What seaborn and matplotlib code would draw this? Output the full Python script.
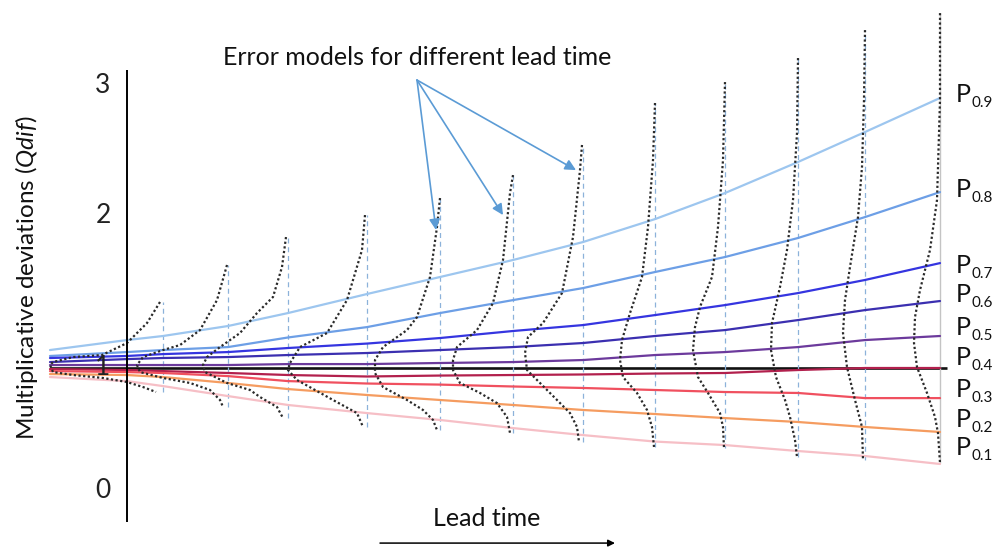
import numpy as np
import pandas as pd
import matplotlib
matplotlib.use("Agg")
import matplotlib.pyplot as plt
import seaborn as sns

# ---------------- data (lead time in arbitrary units, Qdif on the schematic's scale) -------------
lead = [-7.7, 0.0, 3.6, 10.1, 16.1, 24.0, 31.3, 38.6, 45.6, 52.8, 59.8, 67.1, 73.8, 81.3]

p90 = [1.037, 1.111, 1.141, 1.215, 1.311, 1.452, 1.578, 1.704, 1.837, 2.007, 2.200, 2.430, 2.652, 2.904]
p80 = [0.993, 1.022, 1.037, 1.059, 1.130, 1.207, 1.311, 1.407, 1.496, 1.615, 1.726, 1.867, 2.022, 2.207]
p70 = [0.978, 0.993, 1.007, 1.022, 1.052, 1.085, 1.126, 1.178, 1.222, 1.296, 1.370, 1.459, 1.556, 1.681]
p60 = [0.948, 0.970, 0.978, 0.985, 1.000, 1.015, 1.037, 1.059, 1.089, 1.141, 1.185, 1.259, 1.333, 1.400]
p50 = [0.926, 0.926, 0.926, 0.926, 0.933, 0.933, 0.941, 0.948, 0.963, 1.000, 1.022, 1.059, 1.111, 1.141]
p40 = [0.896, 0.889, 0.881, 0.867, 0.852, 0.841, 0.848, 0.852, 0.856, 0.863, 0.867, 0.889, 0.904, 0.904]
p30 = [0.881, 0.874, 0.867, 0.844, 0.807, 0.789, 0.781, 0.767, 0.756, 0.741, 0.726, 0.719, 0.681, 0.681]
p20 = [0.859, 0.852, 0.837, 0.793, 0.748, 0.704, 0.667, 0.630, 0.593, 0.563, 0.533, 0.504, 0.467, 0.430]
p10 = [0.837, 0.807, 0.770, 0.696, 0.630, 0.570, 0.519, 0.459, 0.407, 0.359, 0.333, 0.289, 0.252, 0.193]

quantile_names = ["0.9", "0.8", "0.7", "0.6", "0.5", "0.4", "0.3", "0.2", "0.1"]
ref_level = 0.904          # the Qdif = 1 reference line
ref_end = 82.0

# error-model densities (one per lead time): Qdif values and density height (in lead-time units)
dens_lead = [3.6, 10.1, 16.1, 24.0, 31.3, 38.6, 45.6, 52.8, 59.8, 67.1, 73.8, 81.3]
dens_q = [
    [1.393, 1.237, 1.089, 1.000, 0.985, 0.948, 0.926, 0.874, 0.852, 0.830, 0.800, 0.763, 0.726],
    [1.667, 1.407, 1.185, 1.074, 1.037, 0.985, 0.926, 0.874, 0.830, 0.793, 0.741, 0.667, 0.615],
    [1.874, 1.652, 1.430, 1.311, 1.163, 1.059, 0.985, 0.926, 0.874, 0.793, 0.741, 0.689, 0.615, 0.533],
    [2.037, 1.778, 1.407, 1.163, 1.059, 0.941, 0.889, 0.815, 0.667, 0.570, 0.467],
    [2.163, 1.948, 1.578, 1.281, 1.185, 1.059, 0.963, 0.867, 0.763, 0.667, 0.593, 0.519, 0.444],
    [2.333, 2.200, 1.704, 1.385, 1.185, 1.059, 0.963, 0.889, 0.793, 0.719, 0.644, 0.541, 0.422],
    [2.556, 2.370, 1.874, 1.459, 1.237, 1.133, 1.015, 0.889, 0.793, 0.667, 0.570, 0.467, 0.356],
    [2.867, 2.444, 1.948, 1.578, 1.311, 1.111, 0.963, 0.837, 0.719, 0.593, 0.467, 0.319],
    [3.022, 2.444, 1.948, 1.578, 1.356, 1.207, 1.037, 0.837, 0.719, 0.570, 0.467, 0.311],
    [3.200, 2.644, 2.148, 1.778, 1.504, 1.237, 1.037, 0.837, 0.667, 0.541, 0.370, 0.244],
    [3.407, 2.889, 2.393, 2.022, 1.652, 1.407, 1.163, 0.911, 0.667, 0.467, 0.222],
    [3.533, 2.889, 2.148, 1.778, 1.481, 1.281, 1.089, 0.911, 0.719, 0.541, 0.422, 0.200],
]
dens_w = [
    [0.3, 1.6, 3.6, 6.1, 9.0, 11.0, 11.3, 11.0, 9.0, 6.0, 3.6, 2.0, 0.7],
    [0.1, 1.1, 2.8, 4.8, 6.5, 8.5, 9.1, 8.8, 6.5, 3.8, 1.8, 0.8, 0.5],
    [0.2, 0.6, 1.5, 3.1, 4.8, 6.8, 8.1, 8.5, 8.3, 6.1, 3.8, 2.8, 1.1, 0.5],
    [0.2, 0.5, 2.0, 4.0, 6.7, 7.7, 7.9, 7.0, 3.4, 1.0, 0.4],
    [0.0, 0.3, 1.0, 2.3, 3.3, 5.7, 6.5, 6.5, 5.7, 3.3, 1.7, 0.7, 0.3],
    [0.0, 0.3, 1.0, 2.0, 3.6, 5.6, 6.0, 6.0, 5.3, 3.3, 1.6, 0.6, 0.3],
    [0.1, 0.3, 1.0, 2.1, 4.0, 5.5, 5.8, 5.6, 4.3, 2.6, 1.3, 0.6, 0.4],
    [0.0, 0.2, 0.7, 1.3, 2.5, 3.3, 3.5, 3.2, 1.8, 0.8, 0.3, 0.1],
    [0.0, 0.2, 0.7, 1.3, 2.5, 3.0, 3.2, 2.7, 1.7, 0.5, 0.2, 0.1],
    [0.0, 0.1, 0.5, 1.1, 1.8, 2.6, 2.7, 2.2, 1.3, 0.8, 0.3, 0.1],
    [0.0, 0.1, 0.3, 0.7, 1.5, 2.0, 2.2, 1.8, 1.0, 0.3, 0.2],
    [0.0, 0.0, 0.3, 1.0, 2.0, 2.5, 2.6, 2.3, 1.3, 0.5, 0.2, 0.0],
]

ytick_labels = ["0", "1", "2", "3"]
title_text = "Error models for different lead time"
ylabel_text = r"Multiplicative deviations ($\mathit{Qdif}$)"
xlabel_text = "Lead time"

# ---------------- style ----------------
sns.set_theme(style="white")
plt.rcParams["font.family"] = ["Lato", "DejaVu Sans"]
plt.rcParams["mathtext.fontset"] = "custom"
plt.rcParams["mathtext.rm"] = "Lato"
plt.rcParams["mathtext.it"] = "Lato:italic"

palette = {
    "0.9": "#9dc6ef", "0.8": "#6d9fe6", "0.7": "#3535e0", "0.6": "#3b2fb0",
    "0.5": "#6c3a9c", "0.4": "#b2204d", "0.3": "#f0505f", "0.2": "#f59c60",
    "0.1": "#f6bfc6",
}

fig = plt.figure(figsize=(9.92, 5.47), dpi=100)
ax = fig.add_axes([0, 0, 1, 1])
ax.set_xlim(-12.7, 86.5)
ax.set_ylim(-0.422, 3.630)
ax.axis("off")

# quantile lines
series = [p90, p80, p70, p60, p50, p40, p30, p20, p10]
qdf = pd.concat(
    [pd.DataFrame({"lead": lead, "qdif": s, "quantile": n}) for s, n in zip(series, quantile_names)],
    ignore_index=True,
)
ax.hlines(ref_level, lead[0], ref_end, color="#111111", lw=1.9, zorder=2)
sns.lineplot(data=qdf, x="lead", y="qdif", hue="quantile", palette=palette,
             estimator=None, lw=1.6, legend=False, ax=ax, zorder=3)

# densities
rows = []
for i, (L, qs, ws) in enumerate(zip(dens_lead, dens_q, dens_w)):
    for q, w in zip(qs, ws):
        rows.append({"id": i, "lead": L, "qdif": q, "x": L - w})
ddf = pd.DataFrame(rows)
# baselines of the error models
for i, (L, qs) in enumerate(zip(dens_lead, dens_q)):
    if i == len(dens_lead) - 1:
        ax.vlines(L, min(qs), max(qs), color="#c4c4c4", lw=1.0, zorder=2)
    else:
        ax.vlines(L, min(qs), max(qs), color="#8cb2da", lw=0.9, linestyles=(0, (4, 3)), zorder=2)
sns.lineplot(data=ddf, x="x", y="qdif", units="id", estimator=None, sort=False,
             color="#2a2a2a", lw=1.6, linestyle=(0, (1, 1.1)), ax=ax, zorder=4)

# y axis line and labels
ax.vlines(0, -0.237, 3.111, color="black", lw=1.4, zorder=5)
for lab, pos in zip(ytick_labels, [0.0, 0.911, 2.037, 3.0]):
    ax.text(-2.4, pos, lab, ha="center", va="center", fontsize=19, color="#222222", zorder=6)
ax.text(-10.0, 1.57, ylabel_text, rotation=90, ha="center", va="center", fontsize=17.5, color="#111111")

# quantile labels (P with subscript)
for name, yb in zip(quantile_names, [2.874, 2.170, 1.607, 1.393, 1.148, 0.926, 0.689, 0.467, 0.259]):
    ax.text(82.9, yb, "P", ha="left", va="baseline", fontsize=18, color="#111111")
    ax.text(84.4, yb - 0.037, name, ha="left", va="baseline", fontsize=11, color="#111111")

# annotation
ax.text(29.05, 3.148, title_text, ha="center", va="baseline", fontsize=18, color="#111111")
for tip in [(30.9, 1.926), (37.6, 2.037), (44.9, 2.370)]:
    ax.annotate("", xy=tip, xytext=(29.0, 3.037),
                arrowprops=dict(arrowstyle="-|>", color="#5b9bd5", lw=1.2,
                                mutation_scale=16, shrinkA=0, shrinkB=0), zorder=6)

# lead time axis label and arrow
ax.text(36.0, -0.267, xlabel_text, ha="center", va="baseline", fontsize=18, color="#111111")
ax.annotate("", xy=(48.8, -0.393), xytext=(25.3, -0.393),
            arrowprops=dict(arrowstyle="-|>", color="black", lw=1.1,
                            mutation_scale=10, shrinkA=0, shrinkB=0))

fig.savefig("out.png", dpi=100)
